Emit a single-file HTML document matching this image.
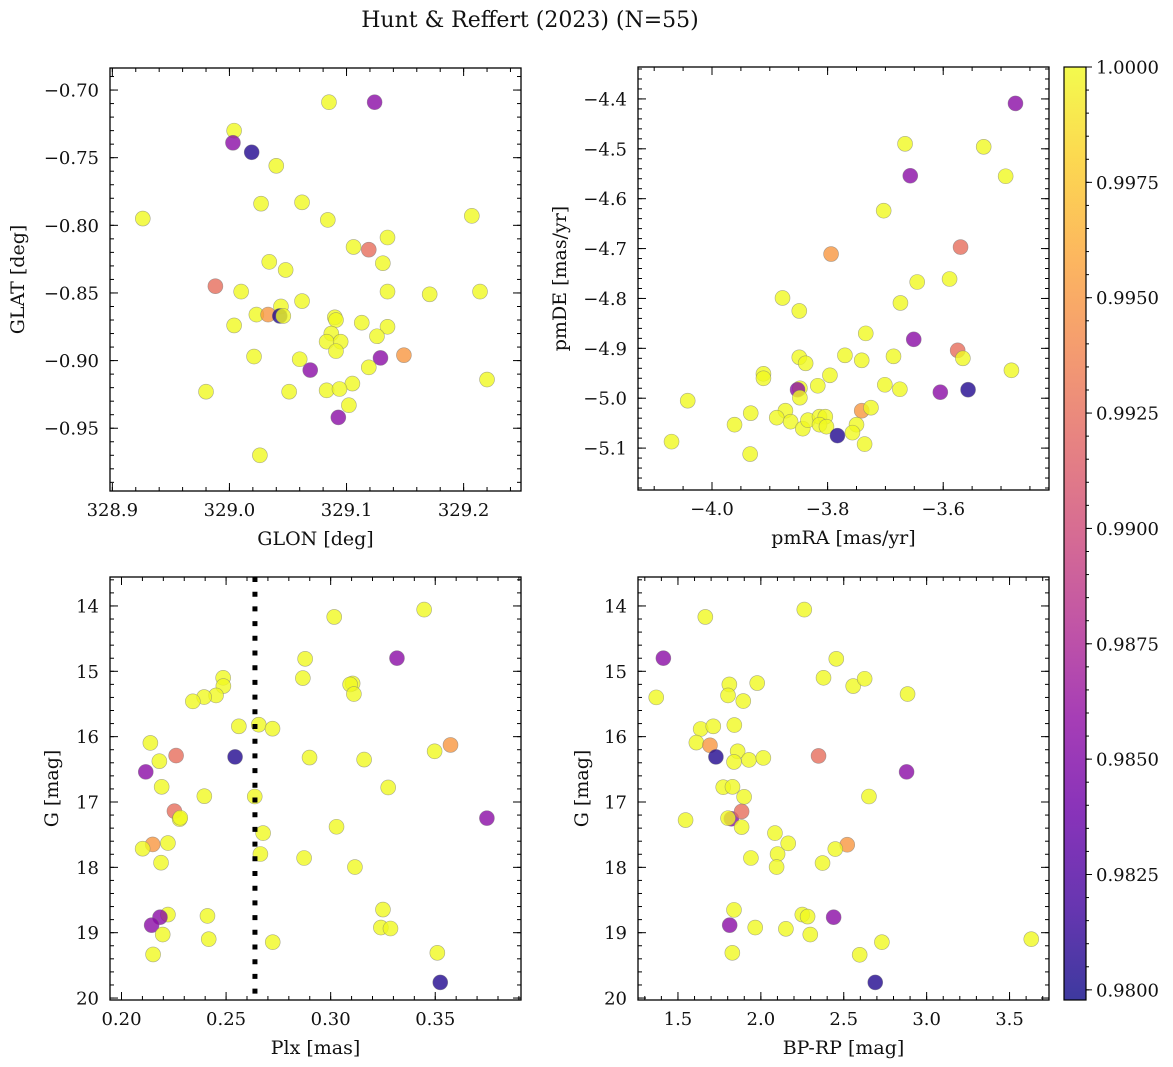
<!DOCTYPE html>
<html>
<head>
<meta charset="utf-8">
<style>
  html,body{margin:0;padding:0;background:#fff;}
  svg{display:block;font-family:"DejaVu Serif","Liberation Serif",serif;}
</style>
</head>
<body>
<svg id="fig" width="1173" height="1067" viewBox="0 0 1173 1067" xmlns="http://www.w3.org/2000/svg">
  <defs>
    <linearGradient id="plasmaGrad" x1="0" y1="1" x2="0" y2="0">
      <stop offset="0" stop-color="#0d0887"/>
      <stop offset="0.1" stop-color="#41049d"/>
      <stop offset="0.2" stop-color="#6a00a8"/>
      <stop offset="0.3" stop-color="#8f0da4"/>
      <stop offset="0.4" stop-color="#b12a90"/>
      <stop offset="0.5" stop-color="#cc4778"/>
      <stop offset="0.6" stop-color="#e16462"/>
      <stop offset="0.7" stop-color="#f2844b"/>
      <stop offset="0.8" stop-color="#fca636"/>
      <stop offset="0.9" stop-color="#fcce25"/>
      <stop offset="1" stop-color="#f0f921"/>
    </linearGradient>
  </defs>
  <text x="530" y="27" font-size="22" text-anchor="middle" fill="#111">Hunt &amp; Reffert (2023) (N=55)</text>
</svg>
<script>
// ---- Panel 1: sky positions ----
const glon = [329.085,329.124,329.004,329.003,329.019,329.040,329.027,329.062,328.926,329.084,
329.207,329.106,329.119,329.135,329.131,329.034,329.048,328.988,329.010,329.135,
329.171,329.214,329.062,329.044,329.023,329.033,329.043,329.046,329.004,329.090,
329.091,329.113,329.135,329.126,329.087,329.083,329.095,329.091,329.021,329.060,
329.149,329.129,329.069,329.119,329.105,329.220,328.980,329.051,329.083,329.094,
329.102,329.093,329.026];
const glat = [-0.709,-0.709,-0.730,-0.739,-0.746,-0.756,-0.784,-0.783,-0.795,-0.796,
-0.793,-0.816,-0.818,-0.809,-0.828,-0.827,-0.833,-0.845,-0.849,-0.849,
-0.851,-0.849,-0.856,-0.860,-0.866,-0.866,-0.867,-0.867,-0.874,-0.868,
-0.870,-0.872,-0.875,-0.882,-0.880,-0.886,-0.886,-0.893,-0.897,-0.899,
-0.896,-0.898,-0.907,-0.905,-0.917,-0.914,-0.923,-0.923,-0.922,-0.921,
-0.933,-0.942,-0.970];
const probSky = [1,0.9855,1,0.9855,0.9805,1,1,1,1,1,
1,1,0.9925,1,1,1,1,0.9925,1,1,
1,1,1,1,1,0.995,0.9805,1,1,1,
1,1,1,1,1,1,1,1,1,1,
0.995,0.9855,0.9855,1,1,1,1,1,1,1,
1,0.9855,1];

// ---- Panel 2: proper motions ----
const pmra = [-3.475,-3.666,-3.530,-3.657,-3.492,-3.703,-3.794,-3.570,-3.645,-3.589,
-3.878,-3.674,-3.849,-3.651,-3.734,-3.575,-3.566,-3.849,-3.838,-3.770,
-3.741,-3.686,-3.482,-3.911,-3.911,-3.796,-3.817,-3.701,-3.675,-3.848,
-3.852,-3.848,-3.605,-3.557,-4.042,-3.933,-3.961,-3.873,-3.888,-3.864,
-3.843,-3.834,-3.814,-3.804,-3.814,-3.802,-3.741,-3.725,-3.750,-3.757,
-3.783,-3.736,-4.070,-3.934];
const pmde = [-4.409,-4.490,-4.496,-4.554,-4.555,-4.624,-4.711,-4.697,-4.767,-4.761,
-4.799,-4.809,-4.825,-4.882,-4.870,-4.904,-4.920,-4.918,-4.930,-4.914,
-4.924,-4.916,-4.944,-4.951,-4.960,-4.954,-4.975,-4.973,-4.982,-4.980,
-4.983,-4.999,-4.988,-4.983,-5.005,-5.030,-5.053,-5.025,-5.039,-5.047,
-5.061,-5.044,-5.037,-5.037,-5.053,-5.057,-5.025,-5.019,-5.053,-5.069,
-5.075,-5.092,-5.087,-5.112];
const probPm = [0.9855,1,1,0.9855,1,1,0.995,0.9925,1,1,
1,1,1,0.9855,1,0.9925,1,1,1,1,
1,1,1,1,1,1,1,1,1,1,
0.9855,1,0.9855,0.9805,1,1,1,1,1,1,
1,1,1,1,1,1,0.995,1,1,1,
0.9805,1,1,1];

// ---- Panel 3: parallax vs G ----
const plx = [0.3447,0.3017,0.3317,0.2878,0.2867,0.3105,0.3093,0.3111,0.2486,0.2487,
0.2452,0.2395,0.2341,0.2561,0.2656,0.2722,0.2138,0.2261,0.2181,0.2543,
0.2116,0.2899,0.3160,0.3497,0.3573,0.2192,0.2396,0.2637,0.3275,0.2253,
0.2278,0.2281,0.3747,0.3028,0.2677,0.2149,0.2101,0.2222,0.2189,0.2664,
0.2873,0.3116,0.3250,0.2222,0.2184,0.2144,0.2411,0.3240,0.3286,0.2197,
0.2417,0.2723,0.2151,0.3510,0.3524];
const gmagPlx = [14.056,14.168,14.799,14.809,15.104,15.186,15.201,15.348,15.099,15.226,
15.369,15.394,15.460,15.842,15.817,15.878,16.096,16.290,16.376,16.310,
16.539,16.320,16.351,16.224,16.127,16.768,16.911,16.916,16.778,17.140,
17.262,17.241,17.247,17.379,17.476,17.649,17.715,17.628,17.929,17.796,
17.857,17.995,18.646,18.723,18.763,18.885,18.743,18.921,18.936,19.028,
19.099,19.145,19.333,19.308,19.761];
const probPlx = [1,1,0.9855,1,1,1,1,1,1,1,
1,1,1,1,1,1,1,0.9925,1,0.9805,
0.9855,1,1,1,0.995,1,1,1,1,0.9925,
1,1,0.9855,1,1,0.995,1,1,1,1,
1,1,1,1,0.9855,0.9855,1,1,1,1,
1,1,1,1,0.9805];
const plxCut = [0.2638];

// ---- Panel 4: colour-magnitude ----
const bprp = [1.665,2.262,1.412,2.455,1.369,1.810,1.802,1.978,1.894,2.378,
2.557,2.626,2.885,1.637,1.713,1.840,1.611,1.693,1.729,1.860,
1.838,1.928,2.015,2.348,2.879,1.773,1.829,1.899,2.652,1.546,
1.822,1.802,1.884,1.884,2.085,2.165,2.521,2.449,2.101,1.940,
2.095,2.372,1.838,2.250,2.282,2.439,1.812,1.966,2.151,2.298,
2.730,3.631,1.828,2.596,2.690];
const gmagCmd = [14.168,14.056,14.799,14.809,15.399,15.201,15.369,15.180,15.455,15.099,
15.226,15.114,15.348,15.883,15.842,15.822,16.091,16.132,16.310,16.224,
16.387,16.356,16.325,16.295,16.539,16.773,16.768,16.921,16.916,17.277,
17.257,17.247,17.145,17.384,17.476,17.633,17.654,17.720,17.796,17.857,
17.995,17.934,18.651,18.723,18.753,18.763,18.885,18.921,18.941,19.028,
19.145,19.099,19.308,19.338,19.761];
const probCmd = [1,1,0.9855,1,1,1,1,1,1,1,
1,1,1,1,1,1,1,0.995,0.9805,1,
1,1,1,0.9925,0.9855,1,1,1,1,1,
0.9855,1,0.9925,1,1,1,0.995,1,1,1,
1,1,1,1,1,0.9855,0.9855,1,1,1,
1,1,1,1,0.9805];

const cbarTicks = [0.9800,0.9825,0.9850,0.9875,0.9900,0.9925,0.9950,0.9975,1.0000];

const NS = "http://www.w3.org/2000/svg";
const svg = document.getElementById('fig');
const VMIN = 0.97978, VMAX = 1.0;
const stops = [[0,[13,8,135]],[0.1,[65,4,157]],[0.2,[106,0,168]],[0.3,[143,13,164]],[0.4,[177,42,144]],
 [0.5,[204,71,120]],[0.6,[225,100,98]],[0.7,[242,132,75]],[0.8,[252,166,54]],[0.9,[252,206,37]],[1,[240,249,33]]];
function plasma(t){
  t=Math.max(0,Math.min(1,t));
  for(let i=1;i<stops.length;i++){
    if(t<=stops[i][0]){
      const a=stops[i-1],b=stops[i],f=(t-a[0])/(b[0]-a[0]);
      const c=a[1].map((v,k)=>Math.round(v+(b[1][k]-v)*f));
      return 'rgb('+c.join(',')+')';
    }
  }
  return 'rgb(240,249,33)';
}
function mk(tag, attrs, parent){
  const e=document.createElementNS(NS,tag);
  for(const k in attrs) e.setAttribute(k,attrs[k]);
  (parent||svg).appendChild(e);
  return e;
}
function fmt(v,d){ const s=Math.abs(v).toFixed(d); return (v<-1e-12?'\u2212':'')+s; }

function panel(cfg){
  const g=mk('g',{});
  
  
  const {x0,x1,y0,y1,xmin,xmax,ymin,ymax,invertY}=cfg;
  const sx=v=>x0+(v-xmin)/(xmax-xmin)*(x1-x0);
  const sy=v=>invertY ? y0+(v-ymin)/(ymax-ymin)*(y1-y0) : y1-(v-ymin)/(ymax-ymin)*(y1-y0);
  const mg=mk('g',{},g);
  
  
  for(let i=0;i<cfg.xs.length;i++){
    const t=(cfg.ps[i]-VMIN)/(VMAX-VMIN);
    const c=mk('circle',{cx:sx(cfg.xs[i]),cy:sy(cfg.ys[i]),r:7.5,fill:plasma(t),'fill-opacity':0.8,stroke:'#777','stroke-opacity':0.6,'stroke-width':0.6},mg);
    
    
  }
  if(cfg.vline){
    const l=mk('line',{x1:sx(cfg.vline[0]),x2:sx(cfg.vline[0]),y1:y0,y2:y1,stroke:'#000','stroke-width':5,'stroke-dasharray':'5 9.7'},g);
    
    
  }
  const fr=mk('rect',{x:x0,y:y0,width:x1-x0,height:y1-y0,fill:'none',stroke:'#000','stroke-width':1.3},g);
  
  
  function tickVals(min,max,step){const a=[];let s=Math.ceil(min/step-1e-9);for(let v=s*step;v<=max+1e-9;v=(++s)*step)a.push(+v.toFixed(8));return a;}
  const tg=mk('g',{stroke:'#000','stroke-width':1},g);
  tickVals(xmin,xmax,cfg.xminor).forEach(v=>{const x=sx(v);mk('line',{x1:x,x2:x,y1:y1,y2:y1-4},tg);mk('line',{x1:x,x2:x,y1:y0,y2:y0+4},tg);});
  tickVals(ymin,ymax,cfg.yminor).forEach(v=>{const y=sy(v);mk('line',{x1:x0,x2:x0+4,y1:y,y2:y},tg);mk('line',{x1:x1,x2:x1-4,y1:y,y2:y},tg);});
  tickVals(xmin,xmax,cfg.xmajor).forEach(v=>{
    const x=sx(v);mk('line',{x1:x,x2:x,y1:y1,y2:y1-8},tg);mk('line',{x1:x,x2:x,y1:y0,y2:y0+8},tg);
    const t=mk('text',{x:x,y:y1+25,'font-size':18,'text-anchor':'middle',fill:'#111',stroke:'none'},g);
    t.textContent=fmt(v,cfg.xdec);
    
    
  });
  tickVals(ymin,ymax,cfg.ymajor).forEach(v=>{
    const y=sy(v);mk('line',{x1:x0,x2:x0+8,y1:y,y2:y},tg);mk('line',{x1:x1,x2:x1-8,y1:y,y2:y},tg);
    const t=mk('text',{x:x0-11,y:y+6.5,'font-size':18,'text-anchor':'end',fill:'#111',stroke:'none'},g);
    t.textContent=fmt(v,cfg.ydec);
    
    
  });
  const xl=mk('text',{x:(x0+x1)/2,y:y1+54,'font-size':19,'text-anchor':'middle',fill:'#111'},g);
  xl.textContent=cfg.xlabel;
  
  
  const yl=mk('text',{x:cfg.ylx,y:(y0+y1)/2,'font-size':19,'text-anchor':'middle',fill:'#111',transform:'rotate(-90 '+cfg.ylx+' '+(y0+y1)/2+')'},g);
  yl.textContent=cfg.ylabel;
  
  
}

panel({name:'sky-panel',x0:110,x1:521,y0:68,y1:491,xmin:328.898,xmax:329.249,ymin:-0.9964,ymax:-0.6837,
  xs:glon,ys:glat,ps:probSky,xmajor:0.1,xminor:0.02,ymajor:0.05,yminor:0.01,xdec:1,ydec:2,
  xlabel:'GLON [deg]',ylabel:'GLAT [deg]',ylx:24});
panel({name:'proper-motion-panel',x0:638,x1:1049,y0:67,y1:490,xmin:-4.128,xmax:-3.417,ymin:-5.184,ymax:-4.336,
  xs:pmra,ys:pmde,ps:probPm,xmajor:0.2,xminor:0.05,ymajor:0.1,yminor:0.02,xdec:1,ydec:1,
  xlabel:'pmRA [mas/yr]',ylabel:'pmDE [mas/yr]',ylx:566});
panel({name:'parallax-panel',x0:110,x1:521,y0:577,y1:1000,xmin:0.1945,xmax:0.391,ymin:13.557,ymax:20.03,invertY:true,
  xs:plx,ys:gmagPlx,ps:probPlx,vline:plxCut,xmajor:0.05,xminor:0.01,ymajor:1,yminor:0.2,xdec:2,ydec:0,
  xlabel:'Plx [mas]',ylabel:'G [mag]',ylx:58});
panel({name:'cmd-panel',x0:638,x1:1049,y0:577,y1:1000,xmin:1.259,xmax:3.738,ymin:13.557,ymax:20.03,invertY:true,
  xs:bprp,ys:gmagCmd,ps:probCmd,xmajor:0.5,xminor:0.1,ymajor:1,yminor:0.2,xdec:1,ydec:0,
  xlabel:'BP-RP [mag]',ylabel:'G [mag]',ylx:588});

(function(){
  const cx0=1064,cx1=1086,cy0=67,cy1=1000;
  const g=mk('g',{});
  
  
  mk('rect',{x:cx0,y:cy0,width:cx1-cx0,height:cy1-cy0,fill:'url(#plasmaGrad)','fill-opacity':0.8},g);
  mk('rect',{x:cx0,y:cy0,width:cx1-cx0,height:cy1-cy0,fill:'none',stroke:'#000','stroke-width':1.2},g);
  const sy=v=>cy1-(v-VMIN)/(VMAX-VMIN)*(cy1-cy0);
  for(let k=0;k<=40;k++){const v=0.98+k*0.0005;if(v>VMAX+1e-9)break;const y=sy(v);mk('line',{x1:cx1,x2:cx1+3,y1:y,y2:y,stroke:'#000','stroke-width':1},g);}
  cbarTicks.forEach(v=>{
    const y=sy(v);
    mk('line',{x1:cx1,x2:cx1+6,y1:y,y2:y,stroke:'#000','stroke-width':1},g);
    const t=mk('text',{x:cx1+10,y:y+6.5,'font-size':18,fill:'#111'},g);
    t.textContent=v.toFixed(4);
    
    
  });
})();
</script>
</body>
</html>
